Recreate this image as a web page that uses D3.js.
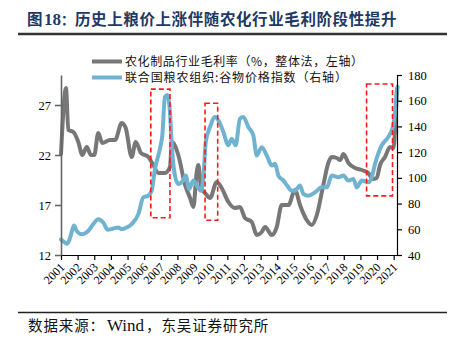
<!DOCTYPE html>
<html><head><meta charset="utf-8">
<script src="https://cdn.jsdelivr.net/npm/d3@7"></script>
<style>
html,body{margin:0;padding:0;background:#fff;}
svg{display:block;}
</style></head>
<body>
<svg id="c" width="451" height="340"></svg>
<script>
// ---------- data ----------
const titleFig = "图";
const titleNum = "18";
const titleColon = "：";
const titleText = "历史上粮价上涨伴随农化行业毛利阶段性提升";
const sourceHead = "数据来源：";
const sourceWind = "Wind";
const sourceTail = "，东吴证券研究所";
const seriesNames = ["农化制品行业毛利率（%，整体法，左轴）", "联合国粮农组织:谷物价格指数（右轴）"];
const yearTicks = [2001,2002,2003,2004,2005,2006,2007,2008,2009,2010,2011,2012,2013,2014,2015,2016,2017,2018,2019,2020,2021];
const leftTicks = [12,17,22,27];
const rightTicks = [40,60,80,100,120,140,160,180];

// 农化制品行业毛利率 (left axis)
const marginYears = [2001.0,2001.3,2001.44,2001.74,2002.04,2002.28,2002.55,2002.8,2003.0,2003.24,2003.48,2003.95,2004.25,2004.65,2004.89,2005.25,2005.49,2005.81,2006.25,2006.55,2006.85,2007.25,2007.55,2007.67,2008.05,2008.46,2008.76,2008.96,2009.16,2009.26,2009.42,2009.66,2009.96,2010.36,2010.66,2011.06,2011.46,2011.76,2012.06,2012.47,2012.77,2013.07,2013.27,2013.67,2013.97,2014.27,2014.67,2015.07,2015.37,2015.77,2016.08,2016.38,2016.77,2017.07,2017.28,2017.58,2017.78,2017.98,2018.28,2018.68,2019.08,2019.48,2019.72,2019.98,2020.18,2020.48,2020.78,2020.98,2021.19];
const marginValues = [22.1,28.7,24.5,24.3,23.3,22.0,22.8,22.0,22.0,24.2,23.2,23.5,23.5,25.2,24.7,21.8,23.3,22.2,21.8,21.0,20.2,20.2,20.8,23.3,22.0,19.0,17.7,16.8,20.3,21.0,18.7,18.2,17.7,19.3,18.7,17.3,16.7,16.8,15.7,15.3,14.0,14.3,14.8,14.0,14.8,17.0,17.0,18.5,17.0,15.5,15.0,16.0,19.0,21.2,21.8,21.7,21.5,22.1,21.2,20.7,20.5,20.2,19.6,19.7,21.0,21.8,22.8,22.7,28.6];

// FAO 谷物价格指数 (right axis)
const cerealYears = [2001.0,2001.24,2001.36,2001.48,2001.69,2001.78,2001.94,2002.24,2002.64,2002.94,2003.24,2003.54,2003.81,2004.14,2004.45,2004.65,2004.95,2005.25,2005.65,2005.95,2006.25,2006.45,2006.65,2006.95,2007.09,2007.25,2007.39,2007.55,2007.65,2007.85,2008.05,2008.35,2008.5,2008.7,2008.96,2009.16,2009.42,2009.56,2009.7,2009.96,2010.26,2010.46,2010.76,2011.06,2011.26,2011.5,2011.76,2011.96,2012.26,2012.56,2012.77,2013.07,2013.37,2013.67,2013.87,2014.07,2014.37,2014.59,2014.87,2015.07,2015.37,2015.57,2015.87,2016.27,2016.68,2016.98,2017.28,2017.67,2017.98,2018.28,2018.58,2018.78,2019.08,2019.48,2019.68,2019.88,2020.28,2020.67,2020.98,2021.12,2021.24];
const cerealValues = [52,49.6,48.8,51,60,63,58.8,56.2,58.8,64,67.9,65.3,59.6,60.6,61.4,60.1,61.4,64,71.8,84.8,86.1,90,107,122.7,133,163,164.4,151.3,127.8,101.8,95.3,97.9,101.8,91.4,97.9,94,90,100.5,127.8,139.6,147.4,144.8,135.7,125.3,130.5,125.3,146.1,147.4,139.6,133.1,117.4,123.9,117.4,109.6,110.9,101.8,97.9,94,90,90,94,87.5,86.1,88.7,92.6,92.6,101.8,100.5,101.8,97.9,99.2,92.6,97.9,96.5,100.5,110.9,125.3,131.7,140.9,156.5,170.8];

// highlight boxes (x in years, y in right-axis units)
const boxStart = [2006.4, 2009.66, 2019.37];
const boxEnd = [2007.55, 2010.42, 2020.93];
const boxTop = [169, 158, 173];
const boxBottom = [69, 67, 86];

// ---------- layout ----------
const svg = d3.select("#c");
const L = 61, R = 397, T = 75, B = 255;
const x = d3.scaleLinear().domain([2001, 2021.2]).range([L, R]);
const yL = d3.scaleLinear().domain([12, 30]).range([B, T]);
const yR = d3.scaleLinear().domain([40, 180]).range([B, T]);
const serif = "'Liberation Serif','Times New Roman',serif";
const cjk = "'Noto Sans CJK SC','Noto Sans',sans-serif";
const grayC = "#777777", blueC = "#70b3d1";

// text with fixed per-character pitch
function pitched(str, x0, pitch, y, size, opts={}) {
  const chars = Array.from(str);
  const xs = chars.map((c,i)=> (x0 + i*pitch).toFixed(2)).join(" ");
  const t = svg.append("text").attr("x", xs).attr("y", y)
    .attr("font-family", opts.family || cjk).attr("font-size", size)
    .attr("fill", opts.fill || "#111");
  if (opts.bold) t.attr("font-weight","bold");
  t.text(str);
  return t;
}

svg.append("rect").attr("width",451).attr("height",340).attr("fill","#fff");

// title
const navy = "#1f3864";
pitched(titleFig, 27, 16, 25, 15.5, {bold:true, fill:navy});
svg.append("text").attr("x",44).attr("y",25).attr("font-family",serif).attr("font-weight","bold")
  .attr("font-size",17).attr("fill",navy).text(titleNum);
pitched(titleColon, 61, 14, 25, 13.5, {bold:true, fill:navy});
pitched(titleText, 75, 16.1, 25, 15.5, {bold:true, fill:navy});
svg.append("line").attr("x1",18).attr("x2",447).attr("y1",34).attr("y2",34)
  .attr("stroke","#333").attr("stroke-width",2.5);

// footer
svg.append("line").attr("x1",18).attr("x2",447).attr("y1",312.5).attr("y2",312.5)
  .attr("stroke","#222").attr("stroke-width",1.5);
pitched(sourceHead, 28, 15.4, 331, 14.5);
svg.append("text").attr("x",107).attr("y",331).attr("font-family",serif)
  .attr("font-size",17).attr("fill","#111").text(sourceWind);
pitched(sourceTail, 146, 15.4, 331, 14.5);

// lines
const lineL = d3.line().x((d,i)=>x(marginYears[i])).y(d=>yL(d)).curve(d3.curveMonotoneX);
const lineR = d3.line().x((d,i)=>x(cerealYears[i])).y(d=>yR(d)).curve(d3.curveMonotoneX);
svg.append("path").attr("d",lineL(marginValues)).attr("fill","none").attr("stroke",grayC)
  .attr("stroke-width",4).attr("stroke-linejoin","round").attr("stroke-linecap","round");
svg.append("path").attr("d",lineR(cerealValues)).attr("fill","none").attr("stroke",blueC)
  .attr("stroke-width",4).attr("stroke-linejoin","round").attr("stroke-linecap","round");

// boxes
svg.append("g").selectAll("rect").data(boxStart).join("rect")
  .attr("x",(d)=>x(d)).attr("y",(d,i)=>yR(boxTop[i]))
  .attr("width",(d,i)=>x(boxEnd[i])-x(d)).attr("height",(d,i)=>yR(boxBottom[i])-yR(boxTop[i]))
  .attr("fill","none").attr("stroke","#ff1a1a").attr("stroke-width",1.6).attr("stroke-dasharray","5,3");

// axes
const gx = svg.append("g").attr("transform",`translate(0,${B})`)
  .call(d3.axisBottom(x).tickValues(yearTicks).tickSize(5).tickSizeOuter(0).tickFormat(d3.format("d")));
gx.selectAll("text").attr("font-family",serif).attr("font-size",12).attr("fill","#000")
  .attr("text-anchor","end").attr("dy",0).attr("y",0)
  .attr("transform","translate(4,13) rotate(-45)");
gx.selectAll("line,path").attr("stroke","#000").attr("stroke-width",1.2);

const gl = svg.append("g").attr("transform",`translate(${L},0)`)
  .call(d3.axisLeft(yL).tickValues(leftTicks).tickSize(6).tickPadding(4).tickSizeOuter(0));
gl.selectAll("text").attr("font-family",serif).attr("font-size",12.5).attr("fill","#000");
gl.selectAll("line,path").attr("stroke","#666").attr("stroke-width",1.6);

const gr = svg.append("g").attr("transform",`translate(${R},0)`)
  .call(d3.axisRight(yR).tickValues(rightTicks).tickSize(5).tickPadding(6).tickSizeOuter(0));
gr.selectAll("text").attr("font-family",serif).attr("font-size",12.5).attr("fill","#000");
gr.selectAll("line,path").attr("stroke","#000").attr("stroke-width",1.2);

// legend
const legColors = [grayC, blueC];
const legLen = [238, 222];
seriesNames.forEach((n,i)=>{
  const yy = 61.5 + i*16;
  svg.append("line").attr("x1",92).attr("x2",122).attr("y1",yy).attr("y2",yy)
    .attr("stroke",legColors[i]).attr("stroke-width",4);
  svg.append("text").attr("x",125).attr("y",yy+4.2).attr("font-family",cjk)
    .attr("font-size",12).attr("fill","#111")
    .attr("textLength",legLen[i]).attr("lengthAdjust","spacing").text(n);
});
</script>
</body></html>
